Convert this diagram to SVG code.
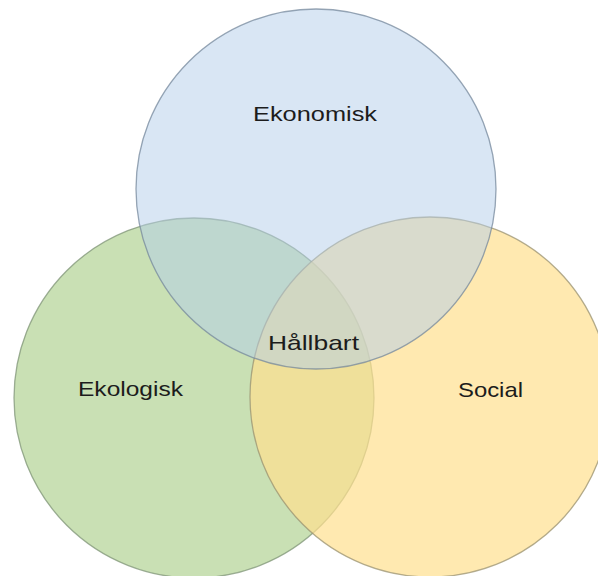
<svg xmlns="http://www.w3.org/2000/svg" width="598" height="576" viewBox="0 0 598 576">
  <style>
    .ring { stroke-width: 1.3; fill-opacity: 0.5; stroke-opacity: 0.75; }
    .warm { fill-opacity: 0.7; }
    .label { font-family: "Liberation Sans", Arial, sans-serif; font-size: 21px; fill: #1c1c1c; text-anchor: middle; }
  </style>
  <rect width="598" height="576" fill="#ffffff"/>
  <g id="ekologisk">
    <circle class="ring" cx="194" cy="398" r="180" fill="#93c169" stroke="#7f9477"/>
  </g>
  <g id="social">
    <circle class="ring warm" cx="430" cy="397" r="180" fill="#ffe08e" stroke="#9a9170"/>
  </g>
  <g id="ekonomisk">
    <circle class="ring" cx="316" cy="189" r="180" fill="#b3cde9" stroke="#75889c"/>
  </g>
  <g id="labels">
    <text class="label" x="315" y="121" textLength="124" lengthAdjust="spacingAndGlyphs">Ekonomisk</text>
    <text class="label" x="130.5" y="396" textLength="105" lengthAdjust="spacingAndGlyphs">Ekologisk</text>
    <text class="label" x="490.5" y="397" textLength="65" lengthAdjust="spacingAndGlyphs">Social</text>
    <text class="label" x="313.5" y="350" textLength="91" lengthAdjust="spacingAndGlyphs">Hållbart</text>
  </g>
</svg>
